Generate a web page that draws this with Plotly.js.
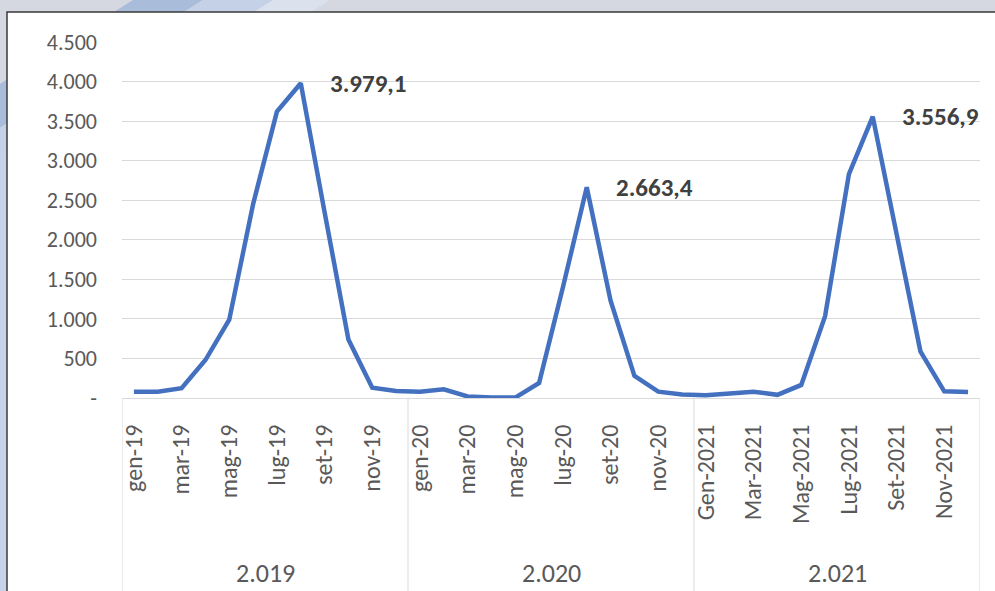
<!DOCTYPE html>
<html><head><meta charset="utf-8">
<script src="https://cdn.plot.ly/plotly-3.0.1.min.js"></script>
<style>html,body{margin:0;padding:0;background:#d5d7e1;}</style>
</head><body><div id="chart" style="width:995px;height:591px;"></div>
<script>
// ---- data ----
const months = [
  'gen-19','feb-19','mar-19','apr-19','mag-19','giu-19','lug-19','ago-19','set-19','ott-19','nov-19','dic-19',
  'gen-20','feb-20','mar-20','apr-20','mag-20','giu-20','lug-20','ago-20','set-20','ott-20','nov-20','dic-20',
  'Gen-2021','Feb-2021','Mar-2021','Apr-2021','Mag-2021','Giu-2021','Lug-2021','Ago-2021','Set-2021','Ott-2021','Nov-2021','Dic-2021'
];
const values2019 = [80, 80, 125, 480, 990, 2450, 3620, 3979.1, 2350, 740, 130, 90];
const values2020 = [80, 110, 20, 5, 5, 190, 1400, 2663.4, 1230, 280, 80, 45];
const values2021 = [35, 60, 80, 40, 165, 1035, 2830, 3556.9, 2050, 590, 85, 75];
const yearLabels = ['2.019', '2.020', '2.021'];
const yTickVals = [0, 500, 1000, 1500, 2000, 2500, 3000, 3500, 4000, 4500];
const yTickText = ['-', '500', '1.000', '1.500', '2.000', '2.500', '3.000', '3.500', '4.000', '4.500'];

const values = values2019.concat(values2020, values2021);
const series = [values2019, values2020, values2021];

// ---- geometry helpers ----
const L = 122, R = 980, T = 42, B = 398;
const px = x => (x - L) / (R - L);
const py = y => (B - y) / (B - T);
const path = pts => 'M ' + pts.map(p => px(p[0]) + ',' + py(p[1])).join(' L ') + ' Z';

function fmtIt(v) {
  const s = v.toFixed(1).split('.');
  return s[0].replace(/\B(?=(\d{3})+(?!\d))/g, '.') + ',' + s[1];
}

const FONT = 'Carlito, Calibri, Lato, sans-serif';

const shapes = [
  {type:'path', xref:'paper', yref:'paper', layer:'below', line:{width:0}, fillcolor:'#a9bdda',
   path: path([[133,0],[203,0],[-2,129],[-2,85]])},
  {type:'path', xref:'paper', yref:'paper', layer:'below', line:{width:0}, fillcolor:'#c4d1e6',
   path: path([[203,0],[273,0],[-2,174],[-2,129]])},
  {type:'path', xref:'paper', yref:'paper', layer:'below', line:{width:0}, fillcolor:'#dce2ed',
   path: path([[273,0],[330,0],[-2,210],[-2,174]])},
  {type:'rect', xref:'paper', yref:'paper', layer:'below', line:{width:0}, fillcolor:'#c5d2e7',
   x0: px(-2), x1: px(10), y0: py(145), y1: py(600)},
  {type:'rect', xref:'paper', yref:'paper', layer:'below', line:{width:1.5, color:'#3a3a3a'}, fillcolor:'#ffffff',
   x0: px(7), x1: px(1005), y0: py(12), y1: py(605)}
];
[-0.5, 11.5, 23.5, 35.5].forEach(xv => shapes.push({
  type:'line', xref:'x', yref:'paper', x0:xv, x1:xv, y0:py(398), y1:py(591),
  line:{color:'#d9d9d9', width:1}
}));

const annotations = [];
series.forEach((arr, k) => {
  let mi = 0;
  arr.forEach((v, i) => { if (v > arr[mi]) mi = i; });
  annotations.push({
    xref:'x', yref:'y', x: k*12 + mi, y: arr[mi], text: fmtIt(arr[mi]),
    showarrow:false, xanchor:'left', yanchor:'middle', xshift:27, yshift:0,
    font:{family:FONT, size:25, color:'#404040', weight:'bold'}
  });
  annotations.push({
    xref:'x', yref:'paper', x: k*12 + 5.5, y: py(573), text: yearLabels[k],
    showarrow:false, xanchor:'center', yanchor:'middle',
    font:{family:FONT, size:26, color:'#595959'}
  });
});

const trace = {
  type:'scatter', mode:'lines', x: months, y: values,
  line:{color:'#4470c0', width:4.5}, hoverinfo:'x+y'
};

const layout = {
  width:995, height:591,
  margin:{l:L, r:995-R, t:T, b:591-B},
  paper_bgcolor:'#d5d7e1', plot_bgcolor:'#ffffff',
  showlegend:false,
  font:{family:FONT, color:'#595959', size:21},
  xaxis:{
    type:'category', range:[-0.5, 35.5],
    tickmode:'array', tickvals: months.filter((m,i)=>i%2===0), ticktext: months.filter((m,i)=>i%2===0),
    tickangle:-90, ticks:'', showgrid:false, zeroline:false,
    showline:true, linecolor:'#d9d9d9', linewidth:1,
    tickfont:{family:FONT, size:24, color:'#595959'}, ticklabelstandoff:16
  },
  yaxis:{
    range:[0, 4500], tickmode:'array', tickvals:yTickVals, ticktext:yTickText,
    showgrid:true, gridcolor:'#d9d9d9', gridwidth:1, zeroline:false, showline:false,
    ticks:'', tickfont:{family:FONT, size:22, color:'#595959'}, ticklabelstandoff:24
  },
  shapes: shapes,
  annotations: annotations
};

Plotly.newPlot('chart', [trace], layout, {displayModeBar:false, staticPlot:true});
</script>
</body></html>
